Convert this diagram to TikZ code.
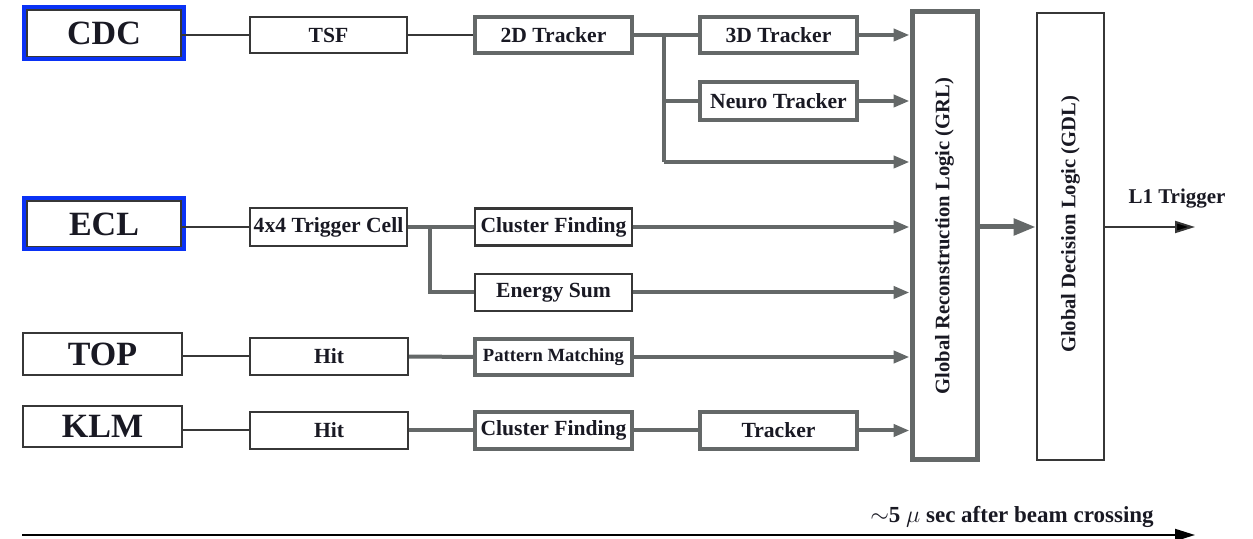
\documentclass[tikz,border=0pt]{standalone}
\usepackage{fontspec}
\setmainfont{Liberation Serif}
\usetikzlibrary{arrows.meta}
\definecolor{lgray}{RGB}{100,104,104}
\definecolor{dgray}{RGB}{55,55,55}
\definecolor{hlblue}{RGB}{10,50,245}
\definecolor{txt}{RGB}{25,25,35}
\tikzset{
  x=0.5pt, y=-0.5pt,
  every node/.style={font=\bfseries, text=txt},
  bx/.style={inner sep=0pt, minimum width=78.5pt, minimum height=18.5pt, font=\fontsize{10.8}{12}\bfseries},
  thinbox/.style={bx, draw=dgray, line width=1pt},
  midbox/.style={bx, draw=dgray, line width=1.4pt},
  thickbox/.style={bx, draw=lgray, line width=2pt},
  srcbox/.style={draw=dgray, line width=1.1pt, inner sep=0pt, minimum width=78pt, minimum height=21pt, font=\fontsize{17}{19}\bfseries},
  hlframe/.style={draw=hlblue, line width=2.4pt, inner sep=0pt, minimum width=80pt, minimum height=26pt},
  thinline/.style={draw=dgray, line width=1pt},
  thickline/.style={draw=lgray, line width=2pt},
  arr/.style={thickline, -{Triangle[length=8pt,width=6pt]}},
}
\begin{document}
\begin{tikzpicture}
\useasboundingbox (0,0) rectangle (1253,539);
% sources
\node[srcbox, minimum width=77pt, minimum height=23.5pt] (cdc) at (104,33.5) {CDC};
\node[hlframe] (cdchl) at (104,33) {};
\node[srcbox, minimum width=77pt, minimum height=23pt] (ecl) at (104,224) {ECL};
\node[hlframe, minimum height=25.5pt] (eclhl) at (104,223.5) {};
\node[srcbox, minimum width=79.5pt] (top) at (102.5,354) {TOP};
\node[srcbox, minimum width=79.5pt, minimum height=20.5pt] (klm) at (102.5,426.5) {KLM};
% CDC chain
\node[thinbox, minimum height=18pt] (tsf) at (328.5,35) {TSF};
\node[thickbox, minimum height=18pt] (trk2d) at (553.5,35) {2D Tracker};
\node[thickbox, minimum height=18pt] (trk3d) at (778.5,35) {3D Tracker};
\node[thickbox, minimum height=19pt] (neuro) at (778.5,101) {Neuro Tracker};
% ECL chain
\node[thinbox, minimum height=19pt] (cell) at (328.5,227) {4x4 Trigger Cell};
\node[midbox] (clus) at (553.5,227) {Cluster Finding};
\node[midbox] (esum) at (553.5,292.5) {Energy Sum};
% TOP chain
\node[thinbox, minimum width=79pt] (hit1) at (329,356.5) {Hit};
\node[thickbox, minimum height=18pt, font=\fontsize{9.3}{11}\bfseries] (pat) at (553.5,357) {Pattern Matching};
% KLM chain
\node[thinbox, minimum width=79pt] (hit2) at (329,430.5) {Hit};
\node[thickbox] (clus2) at (553.5,430.5) {Cluster Finding};
\node[thickbox] (trk) at (778.5,430.5) {Tracker};
% global logic
\node[draw=lgray, line width=2.5pt, inner sep=0pt, minimum width=32.5pt, minimum height=224pt,
  label={[rotate=90, font=\fontsize{10.3}{12}\bfseries, text=txt]center:Global Reconstruction Logic (GRL)}] (grl) at (944.5,236) {};
\node[draw=dgray, line width=1.3pt, inner sep=0pt, minimum width=33.5pt, minimum height=223.5pt,
  label={[rotate=90, font=\fontsize{10.3}{12}\bfseries, text=txt, xshift=6pt]center:Global Decision Logic (GDL)}] (gdl) at (1070.5,236.5) {};
% junctions
\coordinate (j1) at (664,35);
\coordinate (j2) at (664,162);
\coordinate (j3) at (430,227);
\coordinate (l1) at (1195,227);
\coordinate (ts) at (22,535);
\coordinate (te) at (1195,535);
% connectors
\draw[thinline] (cdc.east |- tsf) -- (tsf);
\draw[thinline] (tsf) -- (trk2d);
\draw[thickline] (trk2d) -- (trk3d);
\draw[thickline] (j1) |- (neuro.west);
\draw[thickline] (j1) -- (j2);
\draw[arr] (j2) -- (j2 -| grl.west);
\draw[arr] (trk3d) -- (trk3d -| grl.west);
\draw[arr] (neuro) -- (neuro -| grl.west);
\draw[thinline] (ecl.east |- cell) -- (cell);
\draw[thickline] (cell) -- (clus);
\draw[thickline] (j3) |- (esum.west);
\draw[arr] (clus) -- (clus -| grl.west);
\draw[arr] (esum) -- (esum -| grl.west);
\draw[thinline] (top.east |- hit1) -- (hit1);
\draw[thickline] (hit1) -- (pat);
\draw[arr] (pat) -- (pat -| grl.west);
\draw[thinline] (klm.east |- hit2) -- (hit2);
\draw[thickline] (hit2) -- (clus2);
\draw[thickline] (clus2) -- (trk);
\draw[arr] (trk) -- (trk -| grl.west);
\draw[thickline, line width=2.5pt, -{Triangle[length=11pt,width=8pt]}] (grl.east |- clus) -- (gdl.west |- clus);
\draw[draw=dgray, line width=1pt, -{Triangle[length=10pt,width=6pt,fill=black]}] (gdl.east |- clus) -- (l1);
\node[font=\fontsize{10.5}{12}\bfseries] (l1t) at (1177,199) {L1 Trigger};
\draw[draw=black, line width=1pt, -{Triangle[length=10pt,width=6pt]}] (ts) -- (te);
\node[font=\fontsize{11.5}{13}\bfseries] (tt) at (1012,517) {$\sim$5 $\mu$ sec after beam crossing};
\end{tikzpicture}
\end{document}
